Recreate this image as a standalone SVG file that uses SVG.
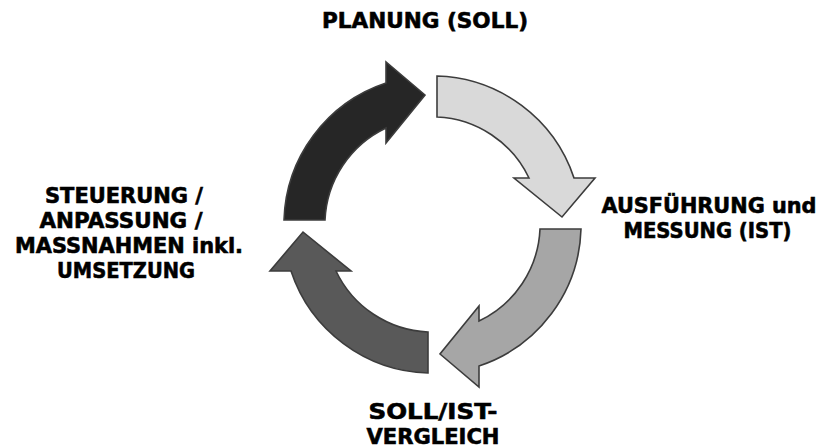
<svg xmlns="http://www.w3.org/2000/svg" width="823" height="448" viewBox="0 0 823 448">
  <style>
    .lbl { font-family: "DejaVu Sans", Verdana, sans-serif; font-weight: bold; font-size: 21.5px; fill: #000000; stroke: #000000; stroke-width: 0.6px; text-anchor: middle; }
    .arrow { stroke: #3c3c3c; stroke-width: 1.6; stroke-linejoin: miter; }
  </style>
  <defs>
    <path id="arrowShape" d="M 284 220 L 325 220 A 107 107 0 0 1 386 128 L 386 143 L 425 95 L 386 62 L 386 83 A 149 149 0 0 0 284 220 Z"/>
  </defs>
  <rect width="823" height="448" fill="#ffffff"/>
  <g id="connectors">
    <use id="arrow-planung" class="arrow" href="#arrowShape" fill="#262626"/>
    <use id="arrow-ausfuehrung" class="arrow" href="#arrowShape" fill="#d9d9d9" transform="rotate(90 432.5 224.5)"/>
    <use id="arrow-vergleich" class="arrow" href="#arrowShape" fill="#a6a6a6" transform="rotate(180 432.5 224.5)"/>
    <use id="arrow-steuerung" class="arrow" href="#arrowShape" fill="#595959" transform="rotate(270 432.5 224.5)"/>
  </g>
  <g id="node-planung">
    <text class="lbl" x="425" y="28" textLength="206" lengthAdjust="spacingAndGlyphs">PLANUNG (SOLL)</text>
  </g>
  <g id="node-ausfuehrung">
    <text class="lbl" x="709" y="213" textLength="215" lengthAdjust="spacingAndGlyphs">AUSFÜHRUNG und</text>
    <text class="lbl" x="707.5" y="238" textLength="168" lengthAdjust="spacingAndGlyphs">MESSUNG (IST)</text>
  </g>
  <g id="node-vergleich">
    <text class="lbl" x="433" y="419" textLength="129" lengthAdjust="spacingAndGlyphs">SOLL/IST-</text>
    <text class="lbl" x="433" y="444" textLength="133" lengthAdjust="spacingAndGlyphs">VERGLEICH</text>
  </g>
  <g id="node-steuerung">
    <text class="lbl" x="124" y="203" textLength="158" lengthAdjust="spacingAndGlyphs">STEUERUNG /</text>
    <text class="lbl" x="121" y="228" textLength="163" lengthAdjust="spacingAndGlyphs">ANPASSUNG /</text>
    <text class="lbl" x="129" y="253" textLength="228" lengthAdjust="spacingAndGlyphs">MASSNAHMEN inkl.</text>
    <text class="lbl" x="126" y="278" textLength="138" lengthAdjust="spacingAndGlyphs">UMSETZUNG</text>
  </g>
</svg>
